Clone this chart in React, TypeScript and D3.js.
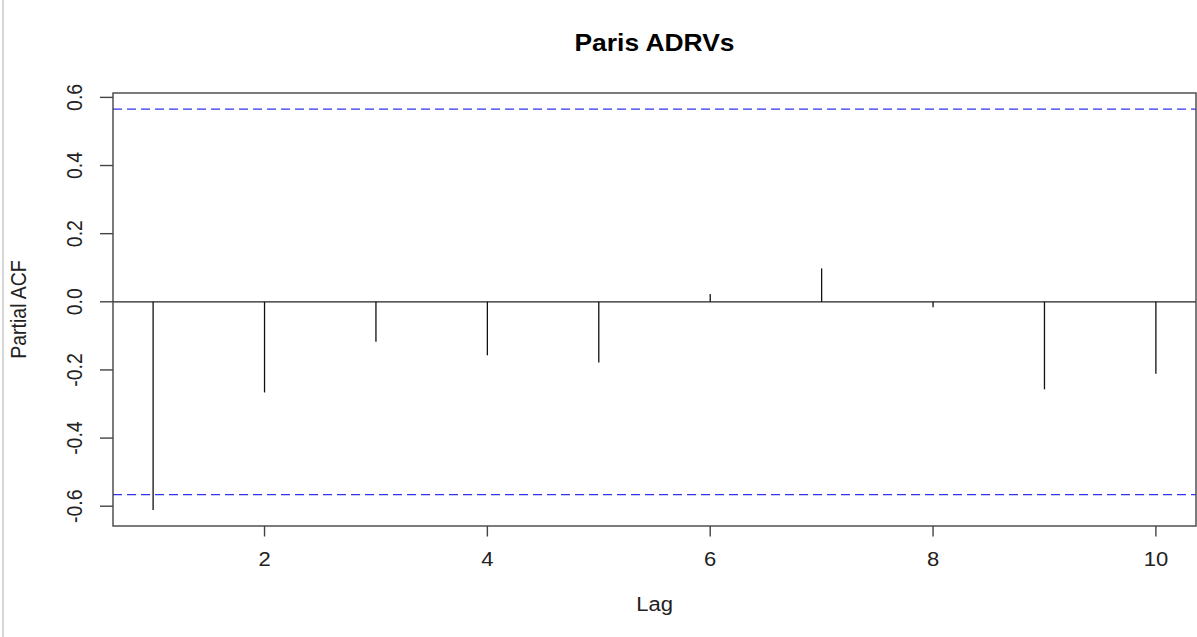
import React from "react";
import * as d3 from "d3";

const lags = [1, 2, 3, 4, 5, 6, 7, 8, 9, 10];
const pacf = [-0.611, -0.266, -0.117, -0.157, -0.178, 0.023, 0.098, -0.016, -0.257, -0.211];
const xTicks = [2, 4, 6, 8, 10];
const yTicks = [-0.6, -0.4, -0.2, 0.0, 0.2, 0.4, 0.6];
const ci = 1.96 / Math.sqrt(12);
const title = "Paris ADRVs";
const xLabel = "Lag";
const yLabel = "Partial ACF";

const W = 1197;
const H = 637;
const left = 113;
const right = 1196;
const top = 93;
const bottom = 526;
const SX = 1.13;
const FS = 19.5;
const font = "'Liberation Sans', Arial, sans-serif";

export default function App() {
  const xr = [d3.min(lags)!, d3.max(lags)!];
  const xs = xr[1] - xr[0];
  const x = d3.scaleLinear().domain([xr[0] - 0.04 * xs, xr[1] + 0.04 * xs]).range([left, right]);
  const ymin = Math.min(d3.min(pacf)!, -ci);
  const ymax = Math.max(d3.max(pacf)!, ci);
  const ys = ymax - ymin;
  const y = d3.scaleLinear().domain([ymin - 0.04 * ys, ymax + 0.04 * ys]).range([bottom, top]);

  return (
    <svg
      width={W}
      height={H}
      style={{ position: "absolute", left: 0, top: 0, background: "#fff" }}
      fontFamily={font}
    >
      <rect x={0} y={0} width={W} height={H} fill="#fff" />
      <line x1={3} x2={3} y1={0} y2={H} stroke="#c8c8c8" strokeWidth={1.5} />
      {/* title */}
      <text
        transform={`translate(${(left + right) / 2},51) scale(${SX},1)`}
        textAnchor="middle"
        fontWeight="bold"
        fontSize={FS * 1.2}
        fill="#000"
      >
        {title}
      </text>
      {/* zero line */}
      <line x1={left} x2={right} y1={y(0)} y2={y(0)} stroke="#222" strokeWidth={1.2} />
      {/* CI lines */}
      {[ci, -ci].map((c, i) => (
        <line
          key={i}
          x1={left}
          x2={right}
          y1={y(c)}
          y2={y(c)}
          stroke="#3333ee"
          strokeWidth={1.3}
          strokeDasharray="9,5"
        />
      ))}
      {/* bars */}
      {lags.map((l, i) => (
        <line key={l} x1={x(l)} x2={x(l)} y1={y(0)} y2={y(pacf[i])} stroke="#111" strokeWidth={1.3} />
      ))}
      {/* box */}
      <rect x={left} y={top} width={right - left} height={bottom - top} fill="none" stroke="#444" strokeWidth={1.4} />
      {/* x axis */}
      {xTicks.map((t) => (
        <g key={t}>
          <line x1={x(t)} x2={x(t)} y1={bottom} y2={bottom + 10.5} stroke="#444" strokeWidth={1.4} />
          <text
            transform={`translate(${x(t)},566) scale(${SX},1)`}
            textAnchor="middle"
            fontSize={FS}
            fill="#222"
          >
            {t}
          </text>
        </g>
      ))}
      {/* y axis */}
      {yTicks.map((t) => (
        <g key={t}>
          <line x1={left - 13} x2={left} y1={y(t)} y2={y(t)} stroke="#444" strokeWidth={1.4} />
          <text
            transform={`translate(82,${y(t)}) scale(${SX},1) rotate(-90)`}
            textAnchor="middle"
            fontSize={FS}
            fill="#222"
          >
            {t.toFixed(1)}
          </text>
        </g>
      ))}
      {/* axis labels */}
      <text
        transform={`translate(${(left + right) / 2},611) scale(${SX},1)`}
        textAnchor="middle"
        fontSize={FS}
        fill="#222"
      >
        {xLabel}
      </text>
      <text
        transform={`translate(25.5,${(top + bottom) / 2}) scale(${SX},1) rotate(-90)`}
        textAnchor="middle"
        fontSize={FS}
        fill="#222"
      >
        {yLabel}
      </text>
    </svg>
  );
}
